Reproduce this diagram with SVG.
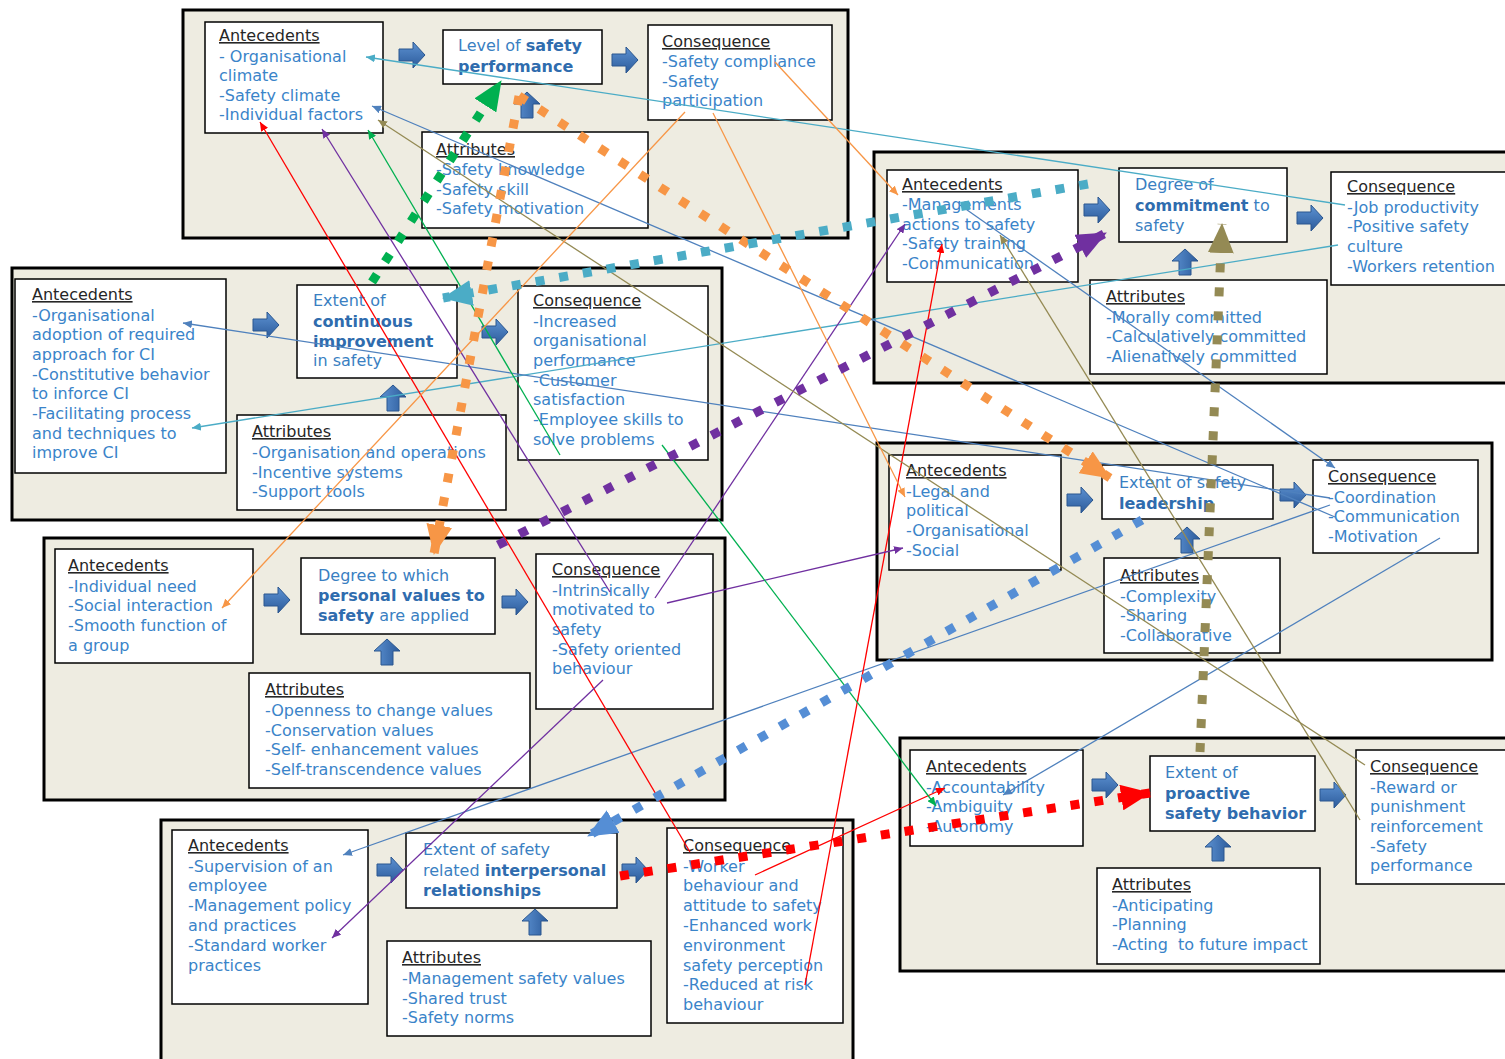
<svg xmlns="http://www.w3.org/2000/svg" width="1505" height="1059" viewBox="0 0 1505 1059">
<defs>
<style>
.panel{fill:#eeece1;stroke:#000;stroke-width:3}
.box{fill:#fff;stroke:#000;stroke-width:1.5}
text{font-family:"DejaVu Sans","Liberation Sans",sans-serif;font-size:16px;fill:#3a84c9}
.hd{fill:#262626;text-decoration:underline}
.ctr{fill:#3a7fc2}
.k{font-weight:bold;fill:#2f6cae}
.dot{fill:none;stroke-width:9;stroke-dasharray:9 15}
.thin{fill:none;stroke-width:1.3}
</style>
<linearGradient id="arrowFill" x1="0" y1="0" x2="0" y2="1">
<stop offset="0" stop-color="#5d92d2"/>
<stop offset="1" stop-color="#2c5b9b"/>
</linearGradient>
<path id="blockArrow" d="M-13,-6H1V-13L13,0L1,13V6H-13Z" fill="url(#arrowFill)" stroke="#2a568f" stroke-width="1"/>
<!-- large heads for the dotted links -->
<marker id="bGreen" markerUnits="userSpaceOnUse" viewBox="0 0 30 26" markerWidth="30" markerHeight="26" refX="29" refY="13" orient="auto"><path d="M0,0L30,13L0,26Z" fill="#00b050"/></marker>
<marker id="bOrange" markerUnits="userSpaceOnUse" viewBox="0 0 30 26" markerWidth="30" markerHeight="26" refX="29" refY="13" orient="auto"><path d="M0,0L30,13L0,26Z" fill="#f79646"/></marker>
<marker id="bTeal" markerUnits="userSpaceOnUse" viewBox="0 0 30 26" markerWidth="30" markerHeight="26" refX="29" refY="13" orient="auto"><path d="M0,0L30,13L0,26Z" fill="#4bacc6"/></marker>
<marker id="bPurple" markerUnits="userSpaceOnUse" viewBox="0 0 30 26" markerWidth="30" markerHeight="26" refX="29" refY="13" orient="auto"><path d="M0,0L30,13L0,26Z" fill="#7030a0"/></marker>
<marker id="bBlue" markerUnits="userSpaceOnUse" viewBox="0 0 30 26" markerWidth="30" markerHeight="26" refX="29" refY="13" orient="auto"><path d="M0,0L30,13L0,26Z" fill="#558ed5"/></marker>
<marker id="bOlive" markerUnits="userSpaceOnUse" viewBox="0 0 30 26" markerWidth="30" markerHeight="26" refX="29" refY="13" orient="auto"><path d="M0,0L30,13L0,26Z" fill="#948a54"/></marker>
<marker id="bRed" markerUnits="userSpaceOnUse" viewBox="0 0 30 26" markerWidth="30" markerHeight="26" refX="29" refY="13" orient="auto"><path d="M0,0L30,13L0,26Z" fill="#ff0000"/></marker>
<!-- small heads for the thin links -->
<marker id="sTeal" markerUnits="userSpaceOnUse" viewBox="0 0 9 8" markerWidth="9" markerHeight="8" refX="9" refY="4" orient="auto"><path d="M0,0L9,4L0,8Z" fill="#4bacc6"/></marker>
<marker id="sBlue" markerUnits="userSpaceOnUse" viewBox="0 0 9 8" markerWidth="9" markerHeight="8" refX="9" refY="4" orient="auto"><path d="M0,0L9,4L0,8Z" fill="#4f81bd"/></marker>
<marker id="sRed" markerUnits="userSpaceOnUse" viewBox="0 0 9 8" markerWidth="9" markerHeight="8" refX="9" refY="4" orient="auto"><path d="M0,0L9,4L0,8Z" fill="#ff0000"/></marker>
<marker id="sPurple" markerUnits="userSpaceOnUse" viewBox="0 0 9 8" markerWidth="9" markerHeight="8" refX="9" refY="4" orient="auto"><path d="M0,0L9,4L0,8Z" fill="#7030a0"/></marker>
<marker id="sGreen" markerUnits="userSpaceOnUse" viewBox="0 0 9 8" markerWidth="9" markerHeight="8" refX="9" refY="4" orient="auto"><path d="M0,0L9,4L0,8Z" fill="#00b050"/></marker>
<marker id="sTan" markerUnits="userSpaceOnUse" viewBox="0 0 9 8" markerWidth="9" markerHeight="8" refX="9" refY="4" orient="auto"><path d="M0,0L9,4L0,8Z" fill="#948a54"/></marker>
<marker id="sOrange" markerUnits="userSpaceOnUse" viewBox="0 0 9 8" markerWidth="9" markerHeight="8" refX="9" refY="4" orient="auto"><path d="M0,0L9,4L0,8Z" fill="#f79646"/></marker>
</defs>

<rect width="1505" height="1059" fill="#fff"/>

<!-- Level of safety performance -->
<g id="cluster-performance">
<rect class="panel" x="183" y="10" width="665" height="228"/>
<g id="perf-antecedents"><rect class="box" x="205" y="22" width="178" height="111"/>
<text x="219" y="41"><tspan class="hd">Antecedents</tspan><tspan x="219" dy="20.5">- Organisational</tspan><tspan x="219" dy="19.5">climate</tspan><tspan x="219" dy="19.5">-Safety climate</tspan><tspan x="219" dy="19.5">-Individual factors</tspan></text></g>
<g id="perf-concept"><rect class="box" x="443" y="30" width="159" height="54"/>
<text x="458" y="51" class="ctr">Level of <tspan class="k">safety</tspan><tspan x="458" dy="21" class="k">performance</tspan></text></g>
<g id="perf-consequence"><rect class="box" x="648" y="25" width="184" height="95"/>
<text x="662" y="47"><tspan class="hd">Consequence</tspan><tspan x="662" dy="20">-Safety compliance</tspan><tspan x="662" dy="19.5">-Safety</tspan><tspan x="662" dy="19.5">participation</tspan></text></g>
<g id="perf-attributes"><rect class="box" x="422" y="132" width="226" height="96"/>
<text x="436" y="155"><tspan class="hd">Attributes</tspan><tspan x="436" dy="20">-Safety knowledge</tspan><tspan x="436" dy="19.5">-Safety skill</tspan><tspan x="436" dy="19.5">-Safety motivation</tspan></text></g>
<use href="#blockArrow" x="412" y="55"/>
<use href="#blockArrow" x="625" y="60"/>
<use href="#blockArrow" transform="translate(527,105) rotate(-90)"/>
</g>

<!-- Degree of commitment to safety -->
<g id="cluster-commitment">
<rect class="panel" x="874" y="152" width="641" height="231"/>
<g id="comm-antecedents"><rect class="box" x="887" y="170" width="191" height="112"/>
<text x="902" y="190"><tspan class="hd">Antecedents</tspan><tspan x="902" dy="20">-Managements</tspan><tspan x="902" dy="19.7">actions to safety</tspan><tspan x="902" dy="19.7">-Safety training</tspan><tspan x="902" dy="19.7">-Communication</tspan></text></g>
<g id="comm-concept"><rect class="box" x="1119" y="168" width="168" height="74"/>
<text x="1135" y="190" class="ctr">Degree of<tspan x="1135" dy="20.5" class="k">commitment</tspan> to<tspan x="1135" dy="20.5">safety</tspan></text></g>
<g id="comm-consequence"><rect class="box" x="1331" y="172" width="185" height="113"/>
<text x="1347" y="192"><tspan class="hd">Consequence</tspan><tspan x="1347" dy="20.5">-Job productivity</tspan><tspan x="1347" dy="19.7">-Positive safety</tspan><tspan x="1347" dy="19.7">culture</tspan><tspan x="1347" dy="19.7">-Workers retention</tspan></text></g>
<g id="comm-attributes"><rect class="box" x="1090" y="280" width="237" height="94"/>
<text x="1106" y="302"><tspan class="hd">Attributes</tspan><tspan x="1106" dy="20.5">-Morally committed</tspan><tspan x="1106" dy="19.7">-Calculatively committed</tspan><tspan x="1106" dy="19.7">-Alienatively committed</tspan></text></g>
<use href="#blockArrow" x="1097" y="210"/>
<use href="#blockArrow" x="1310" y="218"/>
<use href="#blockArrow" transform="translate(1185,262) rotate(-90)"/>
</g>

<!-- Extent of continuous improvement in safety -->
<g id="cluster-improvement">
<rect class="panel" x="12" y="268" width="710" height="252"/>
<g id="ci-antecedents"><rect class="box" x="15" y="279" width="211" height="194"/>
<text x="32" y="300"><tspan class="hd">Antecedents</tspan><tspan x="32" dy="20.5">-Organisational</tspan><tspan x="32" dy="19.7">adoption of required</tspan><tspan x="32" dy="19.7">approach for CI</tspan><tspan x="32" dy="19.7">-Constitutive behavior</tspan><tspan x="32" dy="19.7">to inforce CI</tspan><tspan x="32" dy="19.7">-Facilitating process</tspan><tspan x="32" dy="19.7">and techniques to</tspan><tspan x="32" dy="19.7">improve CI</tspan></text></g>
<g id="ci-concept"><rect class="box" x="297" y="285" width="160" height="93"/>
<text x="313" y="306" class="ctr">Extent of<tspan x="313" dy="20.5" class="k">continuous</tspan><tspan x="313" dy="20" class="k">improvement</tspan><tspan x="313" dy="19.5">in safety</tspan></text></g>
<g id="ci-consequence"><rect class="box" x="518" y="286" width="190" height="174"/>
<text x="533" y="306"><tspan class="hd">Consequence</tspan><tspan x="533" dy="20.5">-Increased</tspan><tspan x="533" dy="19.7">organisational</tspan><tspan x="533" dy="19.7">performance</tspan><tspan x="533" dy="19.7">-Customer</tspan><tspan x="533" dy="19.7">satisfaction</tspan><tspan x="533" dy="19.7">-Employee skills to</tspan><tspan x="533" dy="19.7">solve problems</tspan></text></g>
<g id="ci-attributes"><rect class="box" x="237" y="415" width="269" height="95"/>
<text x="252" y="437"><tspan class="hd">Attributes</tspan><tspan x="252" dy="21">-Organisation and operations</tspan><tspan x="252" dy="19.7">-Incentive systems</tspan><tspan x="252" dy="19.7">-Support tools</tspan></text></g>
<use href="#blockArrow" x="266" y="325"/>
<use href="#blockArrow" x="495" y="332"/>
<use href="#blockArrow" transform="translate(393,398) rotate(-90)"/>
</g>

<!-- Degree to which personal values to safety are applied -->
<g id="cluster-values">
<rect class="panel" x="44" y="538" width="681" height="262"/>
<g id="val-antecedents"><rect class="box" x="55" y="549" width="198" height="114"/>
<text x="68" y="571"><tspan class="hd">Antecedents</tspan><tspan x="68" dy="20.5">-Individual need</tspan><tspan x="68" dy="19.7">-Social interaction</tspan><tspan x="68" dy="19.7">-Smooth function of</tspan><tspan x="68" dy="19.7">a group</tspan></text></g>
<g id="val-concept"><rect class="box" x="301" y="558" width="194" height="76"/>
<text x="318" y="581" class="ctr">Degree to which<tspan x="318" dy="20" class="k">personal values to</tspan><tspan x="318" dy="20" class="k">safety</tspan> are applied</text></g>
<g id="val-consequence"><rect class="box" x="536" y="554" width="177" height="155"/>
<text x="552" y="575"><tspan class="hd">Consequence</tspan><tspan x="552" dy="20.5">-Intrinsically</tspan><tspan x="552" dy="19.7">motivated to</tspan><tspan x="552" dy="19.7">safety</tspan><tspan x="552" dy="19.7">-Safety oriented</tspan><tspan x="552" dy="19.7">behaviour</tspan></text></g>
<g id="val-attributes"><rect class="box" x="249" y="673" width="281" height="115"/>
<text x="265" y="695"><tspan class="hd">Attributes</tspan><tspan x="265" dy="21">-Openness to change values</tspan><tspan x="265" dy="19.5">-Conservation values</tspan><tspan x="265" dy="19.5">-Self- enhancement values</tspan><tspan x="265" dy="19.5">-Self-transcendence values</tspan></text></g>
<use href="#blockArrow" x="277" y="600"/>
<use href="#blockArrow" x="515" y="602"/>
<use href="#blockArrow" transform="translate(387,652) rotate(-90)"/>
</g>

<!-- Extent of safety related interpersonal relationships -->
<g id="cluster-relationships">
<rect class="panel" x="161" y="820" width="692" height="250"/>
<g id="rel-antecedents"><rect class="box" x="172" y="830" width="196" height="174"/>
<text x="188" y="851"><tspan class="hd">Antecedents</tspan><tspan x="188" dy="20.5">-Supervision of an</tspan><tspan x="188" dy="19.8">employee</tspan><tspan x="188" dy="19.8">-Management policy</tspan><tspan x="188" dy="19.8">and practices</tspan><tspan x="188" dy="19.8">-Standard worker</tspan><tspan x="188" dy="19.8">practices</tspan></text></g>
<g id="rel-concept"><rect class="box" x="406" y="833" width="211" height="75"/>
<text x="423" y="855" class="ctr">Extent of safety<tspan x="423" dy="20.5">related </tspan><tspan class="k">interpersonal</tspan><tspan x="423" dy="20.5" class="k">relationships</tspan></text></g>
<g id="rel-consequence"><rect class="box" x="667" y="828" width="176" height="195"/>
<text x="683" y="851"><tspan class="hd">Consequence</tspan><tspan x="683" dy="20.5">-Worker</tspan><tspan x="683" dy="19.8">behaviour and</tspan><tspan x="683" dy="19.8">attitude to safety</tspan><tspan x="683" dy="19.8">-Enhanced work</tspan><tspan x="683" dy="19.8">environment</tspan><tspan x="683" dy="19.8">safety perception</tspan><tspan x="683" dy="19.8">-Reduced at risk</tspan><tspan x="683" dy="19.8">behaviour</tspan></text></g>
<g id="rel-attributes"><rect class="box" x="387" y="941" width="264" height="95"/>
<text x="402" y="963"><tspan class="hd">Attributes</tspan><tspan x="402" dy="21">-Management safety values</tspan><tspan x="402" dy="19.5">-Shared trust</tspan><tspan x="402" dy="19.5">-Safety norms</tspan></text></g>
<use href="#blockArrow" x="390" y="870"/>
<use href="#blockArrow" x="635" y="870"/>
<use href="#blockArrow" transform="translate(535,922) rotate(-90)"/>
</g>

<!-- Extent of safety leadership -->
<g id="cluster-leadership">
<rect class="panel" x="877" y="443" width="615" height="217"/>
<g id="lead-antecedents"><rect class="box" x="889" y="455" width="172" height="115"/>
<text x="906" y="476"><tspan class="hd">Antecedents</tspan><tspan x="906" dy="20.5">-Legal and</tspan><tspan x="906" dy="19.7">political</tspan><tspan x="906" dy="19.7">-Organisational</tspan><tspan x="906" dy="19.7">-Social</tspan></text></g>
<g id="lead-concept"><rect class="box" x="1102" y="465" width="171" height="54"/>
<text x="1119" y="488" class="ctr">Extent of safety<tspan x="1119" dy="21" class="k">leadership</tspan></text></g>
<g id="lead-consequence"><rect class="box" x="1313" y="460" width="165" height="93"/>
<text x="1328" y="482"><tspan class="hd">Consequence</tspan><tspan x="1328" dy="20.5">-Coordination</tspan><tspan x="1328" dy="19.7">-Communication</tspan><tspan x="1328" dy="19.7">-Motivation</tspan></text></g>
<g id="lead-attributes"><rect class="box" x="1104" y="558" width="176" height="95"/>
<text x="1120" y="581"><tspan class="hd">Attributes</tspan><tspan x="1120" dy="20.5">-Complexity</tspan><tspan x="1120" dy="19.7">-Sharing</tspan><tspan x="1120" dy="19.7">-Collaborative</tspan></text></g>
<use href="#blockArrow" x="1080" y="500"/>
<use href="#blockArrow" x="1293" y="495"/>
<use href="#blockArrow" transform="translate(1187,540) rotate(-90)"/>
</g>

<!-- Extent of proactive safety behavior -->
<g id="cluster-proactive">
<rect class="panel" x="900" y="738" width="615" height="233"/>
<g id="pro-antecedents"><rect class="box" x="910" y="750" width="173" height="96"/>
<text x="926" y="772"><tspan class="hd">Antecedents</tspan><tspan x="926" dy="20.5">-Accountability</tspan><tspan x="926" dy="19.7">-Ambiguity</tspan><tspan x="926" dy="19.7">-Autonomy</tspan></text></g>
<g id="pro-concept"><rect class="box" x="1150" y="756" width="165" height="75"/>
<text x="1165" y="778" class="ctr">Extent of<tspan x="1165" dy="20.5" class="k">proactive</tspan><tspan x="1165" dy="20.5" class="k">safety behavior</tspan></text></g>
<g id="pro-consequence"><rect class="box" x="1356" y="750" width="160" height="134"/>
<text x="1370" y="772"><tspan class="hd">Consequence</tspan><tspan x="1370" dy="20.5">-Reward or</tspan><tspan x="1370" dy="19.7">punishment</tspan><tspan x="1370" dy="19.7">reinforcement</tspan><tspan x="1370" dy="19.7">-Safety</tspan><tspan x="1370" dy="19.7">performance</tspan></text></g>
<g id="pro-attributes"><rect class="box" x="1097" y="868" width="223" height="96"/>
<text x="1112" y="890" style="white-space:pre"><tspan class="hd">Attributes</tspan><tspan x="1112" dy="20.5">-Anticipating</tspan><tspan x="1112" dy="19.7">-Planning</tspan><tspan x="1112" dy="19.7">-Acting  to future impact</tspan></text></g>
<use href="#blockArrow" x="1105" y="785"/>
<use href="#blockArrow" x="1333" y="795"/>
<use href="#blockArrow" transform="translate(1218,848) rotate(-90)"/>
</g>

<!-- links between the concepts -->
<g id="connectors">
<g class="thin">
<line x1="1345" y1="205" x2="366" y2="57" stroke="#4bacc6" marker-end="url(#sTeal)"/>
<line x1="1338" y1="245" x2="192" y2="428" stroke="#4bacc6" marker-end="url(#sTeal)"/>
<line x1="1330" y1="498" x2="183" y2="323" stroke="#4f81bd" marker-end="url(#sBlue)"/>
<line x1="1335" y1="517" x2="372" y2="106" stroke="#4f81bd" marker-end="url(#sBlue)"/>
<line x1="960" y1="205" x2="1335" y2="468" stroke="#4f81bd" marker-end="url(#sBlue)"/>
<line x1="1440" y1="538" x2="1003" y2="795" stroke="#4f81bd" marker-end="url(#sBlue)"/>
<line x1="1330" y1="505" x2="343" y2="855" stroke="#4f81bd" marker-end="url(#sBlue)"/>
<line x1="690" y1="852" x2="260" y2="122" stroke="#ff0000" marker-end="url(#sRed)"/>
<line x1="805" y1="985" x2="942" y2="244" stroke="#ff0000" marker-end="url(#sRed)"/>
<line x1="755" y1="875" x2="945" y2="788" stroke="#ff0000" marker-end="url(#sRed)"/>
<line x1="610" y1="592" x2="322" y2="129" stroke="#7030a0" marker-end="url(#sPurple)"/>
<line x1="655" y1="598" x2="905" y2="224" stroke="#7030a0" marker-end="url(#sPurple)"/>
<line x1="667" y1="603" x2="903" y2="548" stroke="#7030a0" marker-end="url(#sPurple)"/>
<line x1="603" y1="680" x2="332" y2="938" stroke="#7030a0" marker-end="url(#sPurple)"/>
<line x1="560" y1="455" x2="368" y2="130" stroke="#00b050" marker-end="url(#sGreen)"/>
<line x1="662" y1="445" x2="936" y2="806" stroke="#00b050" marker-end="url(#sGreen)"/>
<line x1="1365" y1="765" x2="378" y2="120" stroke="#948a54" marker-end="url(#sTan)"/>
<line x1="1360" y1="820" x2="1000" y2="235" stroke="#948a54" marker-end="url(#sTan)"/>
<line x1="775" y1="62" x2="898" y2="195" stroke="#f79646" marker-end="url(#sOrange)"/>
<line x1="713" y1="113" x2="905" y2="497" stroke="#f79646" marker-end="url(#sOrange)"/>
<line x1="685" y1="112" x2="222" y2="608" stroke="#f79646" marker-end="url(#sOrange)"/>
</g>
<g class="dot">
<line x1="372" y1="282" x2="501" y2="81" stroke="#00b050" marker-end="url(#bGreen)"/>
<line x1="519" y1="96" x2="1110" y2="478" stroke="#f79646" marker-end="url(#bOrange)"/>
<line x1="519" y1="96" x2="434" y2="554" stroke="#f79646" marker-end="url(#bOrange)"/>
<line x1="1088" y1="184" x2="443" y2="298" stroke="#4bacc6" marker-end="url(#bTeal)"/>
<line x1="498" y1="545" x2="1106" y2="233" stroke="#7030a0" marker-end="url(#bPurple)"/>
<line x1="1142" y1="520" x2="588" y2="836" stroke="#558ed5" marker-end="url(#bBlue)"/>
<line x1="1200" y1="752" x2="1222" y2="224" stroke="#948a54" marker-end="url(#bOlive)"/>
<line x1="620" y1="876" x2="1150" y2="793" stroke="#ff0000" marker-end="url(#bRed)"/>
</g>
</g>
</svg>
